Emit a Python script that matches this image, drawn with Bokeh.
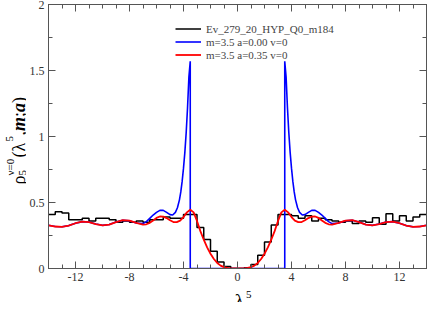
import numpy as np
from bokeh.plotting import figure
from bokeh.layouts import row, column
from bokeh.models import Range1d, LinearAxis, FixedTicker, Legend, LegendItem
from bokeh.core.properties import value
from bokeh.embed import file_html
from bokeh.resources import INLINE

# ---------------- data ----------------
hist_edges = [-14.0 + 0.5 * i for i in range(57)]
hist_values = [0.41, 0.43, 0.42, 0.37, 0.37, 0.38, 0.36, 0.38, 0.38, 0.37,
               0.35, 0.36, 0.35, 0.36, 0.35, 0.37, 0.37, 0.39, 0.38, 0.38,
               0.41, 0.41, 0.31, 0.22, 0.13, 0.05, 0.015, 0.0,
               0.0, 0.005, 0.03, 0.10, 0.20, 0.33, 0.41, 0.41, 0.40, 0.38,
               0.40, 0.36, 0.38, 0.37, 0.36, 0.35, 0.36, 0.34, 0.36, 0.35,
               0.385, 0.335, 0.415, 0.36, 0.40, 0.36, 0.39, 0.41]

red_x = [-14.0, -13.5, -13.0, -12.5, -12.0, -11.5, -11.0, -10.5, -10.0, -9.5,
         -9.0, -8.5, -8.0, -7.5, -7.0, -6.75, -6.5, -6.25, -6.0, -5.75,
         -5.5, -5.25, -5.0, -4.75, -4.5, -4.25, -4.0, -3.75, -3.5, -3.25,
         -3.0, -2.75, -2.5, -2.25, -2.0, -1.75, -1.5, -1.25, -1.0, -0.75,
         -0.5, -0.25, 0.0, 0.25, 0.5, 0.75, 1.0, 1.25, 1.5, 1.75,
         2.0, 2.25, 2.5, 2.75, 3.0, 3.25, 3.5, 3.75, 4.0, 4.25,
         4.5, 4.75, 5.0, 5.25, 5.5, 5.75, 6.0, 6.25, 6.5, 6.75,
         7.0, 7.5, 8.0, 8.5, 9.0, 9.5, 10.0, 10.5, 11.0, 11.5,
         12.0, 12.5, 13.0, 13.5, 14.0]
red_y = [0.327, 0.318, 0.316, 0.325, 0.343, 0.355, 0.352, 0.337, 0.327, 0.333,
         0.352, 0.366, 0.362, 0.345, 0.333, 0.335, 0.346, 0.364, 0.383, 0.394,
         0.393, 0.382, 0.365, 0.352, 0.351, 0.363, 0.390, 0.425, 0.445, 0.425,
         0.360, 0.283, 0.218, 0.160, 0.112, 0.072, 0.042, 0.022, 0.010, 0.004,
         0.001, 0.000, 0.000, 0.000, 0.001, 0.004, 0.010, 0.022, 0.042, 0.072,
         0.112, 0.160, 0.218, 0.283, 0.360, 0.425, 0.445, 0.425, 0.390, 0.363,
         0.351, 0.352, 0.365, 0.382, 0.393, 0.394, 0.383, 0.364, 0.346, 0.335,
         0.333, 0.345, 0.362, 0.366, 0.352, 0.333, 0.327, 0.337, 0.352, 0.355,
         0.343, 0.325, 0.316, 0.318, 0.327]

blue_x = [-14.0, -13.5, -13.0, -12.5, -12.0, -11.5, -11.0, -10.5, -10.0, -9.5,
          -9.0, -8.5, -8.0, -7.5, -7.0, -6.75, -6.5, -6.25, -6.0, -5.75,
          -5.5, -5.25, -5.0, -4.8, -4.6, -4.45, -4.3, -4.2, -4.1, -4.0,
          -3.9, -3.8, -3.7, -3.6, -3.5, -3.5, 3.5, 3.5, 3.6, 3.7,
          3.8, 3.9, 4.0, 4.1, 4.2, 4.3, 4.45, 4.6, 4.8, 5.0,
          5.25, 5.5, 5.75, 6.0, 6.25, 6.5, 6.75, 7.0, 7.5, 8.0,
          8.5, 9.0, 9.5, 10.0, 10.5, 11.0, 11.5, 12.0, 12.5, 13.0,
          13.5, 14.0]
blue_y = [0.327, 0.318, 0.316, 0.325, 0.343, 0.355, 0.352, 0.337, 0.327, 0.333,
          0.352, 0.366, 0.362, 0.345, 0.340, 0.355, 0.380, 0.405, 0.425, 0.440,
          0.440, 0.425, 0.408, 0.405, 0.425, 0.460, 0.520, 0.580, 0.660, 0.760,
          0.880, 1.030, 1.220, 1.450, 1.570, 0.0, 0.0, 1.570, 1.450, 1.220,
          1.030, 0.880, 0.760, 0.660, 0.580, 0.520, 0.460, 0.425, 0.405, 0.408,
          0.425, 0.440, 0.440, 0.425, 0.405, 0.380, 0.355, 0.340, 0.345, 0.362,
          0.366, 0.352, 0.333, 0.327, 0.337, 0.352, 0.355, 0.343, 0.325, 0.316,
          0.318, 0.327]

legend_labels = ["Ev_279_20_HYP_Q0_m184", "m=3.5 a=0.00 v=0", "m=3.5 a=0.35 v=0"]

x_ticks = [-12, -8, -4, 0, 4, 8, 12]
x_tick_labels = ["-12", "-8", "-4", "0", "4", "8", "12"]
x_minor_ticks = list(range(-14, 15))
y_ticks = [0, 0.5, 1, 1.5, 2]
y_tick_labels = ["0", "0.5", "1", "1.5", "2"]
y_minor_ticks = [0, 0.25, 0.5, 0.75, 1, 1.25, 1.5, 1.75, 2]

# ---------------- main figure ----------------
SERIF = "Liberation Serif"
AXC = "#555555"
TW = 26          # width of the y-title strip
MAIN_W, MAIN_H = 402, 286
XT_H = 16        # height of the x-title strip
TH = MAIN_H + XT_H

p = figure(width=MAIN_W, height=MAIN_H, x_range=Range1d(-14, 14), y_range=Range1d(0, 2),
           output_backend="svg", toolbar_location=None,
           min_border_left=18, min_border_right=2, min_border_top=4, min_border_bottom=18)
p.xgrid.visible = False
p.ygrid.visible = False
p.outline_line_color = AXC

def style_axis(ax, ticker, overrides):
    ax.ticker = ticker
    ax.axis_line_color = AXC
    ax.major_tick_line_color = AXC
    ax.minor_tick_line_color = AXC
    ax.major_tick_in = 7
    ax.major_tick_out = 0
    ax.minor_tick_in = 4
    ax.minor_tick_out = 0
    ax.major_label_overrides = overrides
    ax.major_label_text_font = SERIF
    ax.major_label_text_font_size = "12px"
    ax.major_label_text_color = "#333333"
    ax.major_label_standoff = 4

style_axis(p.xaxis[0], FixedTicker(ticks=x_ticks, minor_ticks=x_minor_ticks),
           {t: l for t, l in zip(x_ticks, x_tick_labels)})
style_axis(p.yaxis[0], FixedTicker(ticks=y_ticks, minor_ticks=y_minor_ticks),
           {t: l for t, l in zip(y_ticks, y_tick_labels)})

# mirror ticks on top and right: label-free axes (ticks given as minor ticks only)
def mirror_axis(ticks, length):
    ax = LinearAxis(ticker=FixedTicker(ticks=[], minor_ticks=ticks))
    ax.axis_line_color = AXC
    ax.minor_tick_line_color = AXC
    ax.minor_tick_in = length
    ax.minor_tick_out = 0
    ax.major_tick_in = 0
    ax.major_tick_out = 0
    ax.major_label_standoff = 0
    return ax

p.add_layout(mirror_axis(x_minor_ticks, 4), "above")
p.add_layout(mirror_axis(x_ticks, 7), "above")
p.add_layout(mirror_axis(y_minor_ticks, 4), "right")
p.add_layout(mirror_axis(y_ticks, 7), "right")

r_hist = p.step(x=hist_edges, y=hist_values + [hist_values[-1]], mode="after",
                line_color="black", line_width=1.5)
r_blue = p.line(x=blue_x, y=blue_y, line_color="#0000ff", line_width=1.6)
r_red = p.line(x=red_x, y=red_y, line_color="#ff0000", line_width=1.8)

legend = Legend(items=[LegendItem(label=legend_labels[0], renderers=[r_hist]),
                       LegendItem(label=legend_labels[1], renderers=[r_blue]),
                       LegendItem(label=legend_labels[2], renderers=[r_red])],
                location=(127, 207), border_line_color=None, background_fill_alpha=0,
                label_text_font=SERIF, label_text_font_size="11px",
                label_height=13, glyph_height=13, glyph_width=26, label_standoff=5,
                spacing=0, padding=0, margin=0)
p.add_layout(legend, "center")

# ---------------- y-title strip (pixel coordinates) ----------------
ty = figure(width=TW, height=TH, x_range=Range1d(0, TW), y_range=Range1d(0, TH),
            x_axis_type=None, y_axis_type=None,
            output_backend="svg", toolbar_location=None, min_border=0)
ty.outline_line_color = None
ty.grid.visible = False

R = np.pi / 2
def tlab(fig, h, text, x, y, size, angle=0.0, style="normal"):
    # y given as pixel distance from the top of the strip
    fig.text(x=[x], y=[h - y], text=[text], angle=angle, text_font=value(SERIF),
             text_font_size=size, text_font_style=style, text_color="black",
             text_align="left", text_baseline="alphabetic")

tlab(ty, TH, "\u03c1", 18, 184, "18px", R)
tlab(ty, TH, "5", 22, 175, "11px", R)
tlab(ty, TH, "\u03bd=0", 9, 175, "11px", R)
tlab(ty, TH, "(\u03bb", 18, 157, "18px", R)
tlab(ty, TH, "5", 9, 141, "11px", R)
tlab(ty, TH, ",", 18, 135, "18px", R)
tlab(ty, TH, "m", 18, 130.5, "18px", R, "bold italic")
tlab(ty, TH, ";", 18, 116.5, "18px", R)
tlab(ty, TH, "a", 18, 111.5, "18px", R, "bold italic")
tlab(ty, TH, ")", 18, 102.5, "18px", R)

# ---------------- x-title strip ----------------
tx = figure(width=MAIN_W, height=XT_H, x_range=Range1d(0, MAIN_W),
            y_range=Range1d(0, XT_H), x_axis_type=None, y_axis_type=None,
            output_backend="svg", toolbar_location=None, min_border=0)
tx.outline_line_color = None
tx.grid.visible = False
tlab(tx, XT_H, "\u03bb", 198, 14, "19px")
tlab(tx, XT_H, "5", 210, 8, "11px")

layout = row(ty, column(p, tx))
open("out.html", "w").write(file_html(layout, INLINE))
